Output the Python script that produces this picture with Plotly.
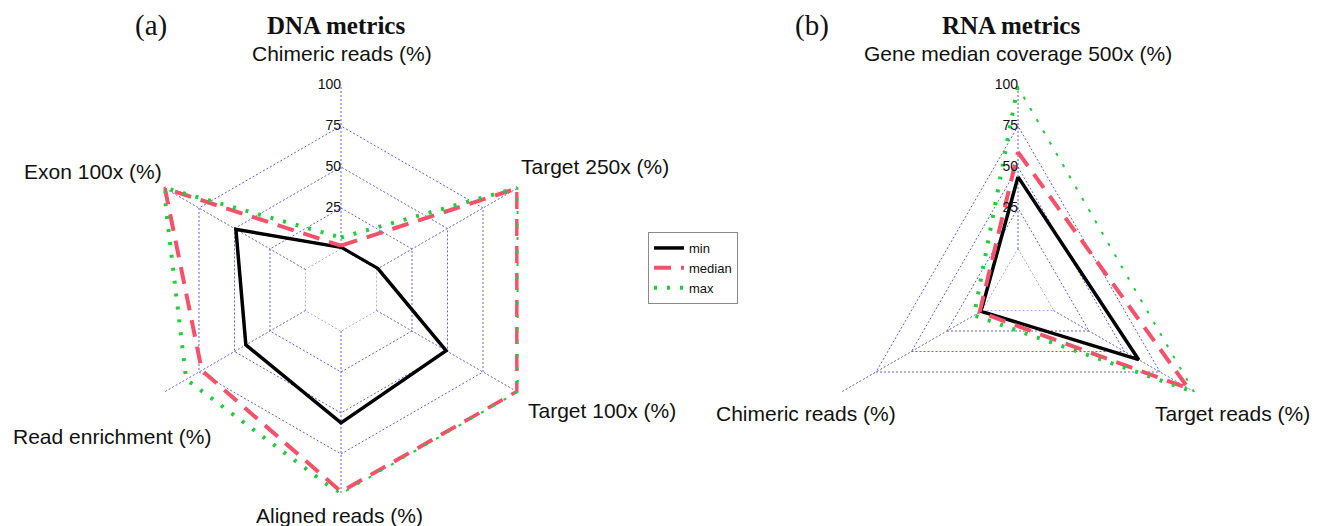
import plotly.graph_objects as go

# DNA panel: six sequencing-quality metrics, clockwise from the top
dna_axes = ["Chimeric reads (%)", "Target 250x (%)", "Target 100x (%)",
            "Aligned reads (%)", "Read enrichment (%)", "Exon 100x (%)"]
dna_min = [1, 1, 49, 56, 42, 49]
dna_median = [2, 99, 99, 98, 73, 99]
dna_max = [7, 100, 100, 100, 84, 100]

# RNA panel: three metrics, clockwise from the top
rna_axes = ["Gene median coverage 500x (%)", "Target reads (%)", "Chimeric reads (%)"]
rna_min = [44, 60, 1]
rna_median = [59, 95, 2]
rna_max = [100, 100, 6]

radial_ticks = [0, 25, 50, 75, 100]
tick_labels = ["0", "25", "50", "75", "100"]

W, H = 1324, 526
SANS = "Liberation Sans, Arial, sans-serif"
SERIF = "Liberation Serif, Times New Roman, serif"
GRID = "#6161D2"
GRID_DASH = "2px,2px"

series_style = [
    ("min", dict(color="#000000", width=3.5, dash="solid")),
    ("median", dict(color="#F5516B", width=4, dash="17px,10px")),
    ("max", dict(color="#22CC3A", width=4, dash="3px,10px")),
]


def closed(vals):
    return list(vals) + [vals[0]]


fig = go.Figure()

panels = [
    ("polar", dna_axes, [dna_min, dna_median, dna_max], True),
    ("polar2", rna_axes, [rna_min, rna_median, rna_max], False),
]

for subplot, axes, series, show in panels:
    # innermost ring (value 0) sits on the edge of the hole
    fig.add_trace(go.Scatterpolar(
        r=closed([radial_ticks[0]] * len(axes)), theta=closed(axes), mode="lines",
        line=dict(color=GRID, width=1, dash=GRID_DASH), subplot=subplot,
        showlegend=False, hoverinfo="skip",
    ))
    for (name, style), vals in zip(series_style, series):
        fig.add_trace(go.Scatterpolar(
            r=closed(vals), theta=closed(axes), mode="lines", name=name,
            line=style, subplot=subplot, showlegend=show, hoverinfo="skip",
        ))
    # radial scale labels along the first (top) axis
    fig.add_trace(go.Scatterpolar(
        r=radial_ticks, theta=[axes[0]] * len(radial_ticks), mode="text",
        text=tick_labels, textposition="middle left",
        textfont=dict(family=SANS, size=14, color="#111111"),
        subplot=subplot, showlegend=False, cliponaxis=False, hoverinfo="skip",
    ))


def polar_layout(x0, x1, y0, y1, axes):
    return dict(
        domain=dict(x=[x0 / W, x1 / W], y=[1 - y1 / H, 1 - y0 / H]),
        gridshape="linear",
        hole=0.2,
        bgcolor="rgba(0,0,0,0)",
        radialaxis=dict(range=[0, 100.01], tickvals=radial_ticks, showticklabels=False,
                        ticks="", showline=False, gridcolor=GRID, gridwidth=1,
                        griddash=GRID_DASH, angle=90),
        angularaxis=dict(categoryarray=axes, categoryorder="array", rotation=90,
                         direction="clockwise", showticklabels=False, ticks="",
                         showline=False, gridcolor=GRID, gridwidth=1, griddash=GRID_DASH),
    )


R = 205
cy = 290
fig.update_layout(
    width=W, height=H,
    margin=dict(l=0, r=0, t=0, b=0),
    paper_bgcolor="white", plot_bgcolor="white",
    polar=polar_layout(341 - R, 341 + R, cy - R, cy + R, dna_axes),
    polar2=polar_layout(1018 - R, 1018 + R, cy - R, cy + R, rna_axes),
    legend=dict(x=648 / W, y=1 - 232 / H, xanchor="left", yanchor="top",
                bordercolor="#8a8a8a", borderwidth=1, bgcolor="white",
                font=dict(family=SANS, size=13, color="#111111"),
                tracegroupgap=0, itemwidth=30),
    showlegend=True,
)

# axis names placed around each polygon
axis_label_pos = {
    "polar": [(341.7, 53), (595, 166.7), (601.5, 410.7), (339, 515), (111.7, 436.7), (93, 171.7)],
    "polar2": [(1018, 53), (1232, 413), (805.5, 413)],
}
annotations = []
for (subplot, axes, _, _) in panels:
    for label, (px, py) in zip(axes, axis_label_pos[subplot]):
        annotations.append(dict(text=label, x=px / W, y=1 - py / H, xref="paper", yref="paper",
                                xanchor="center", yanchor="middle", showarrow=False,
                                font=dict(family=SANS, size=21, color="#111111")))

# panel letters and titles
for text, px, bold, size in [("(a)", 151, False, 29), ("DNA metrics", 336, True, 25),
                             ("(b)", 812, False, 29), ("RNA metrics", 1011, True, 25)]:
    annotations.append(dict(text=f"<b>{text}</b>" if bold else text,
                            x=px / W, y=1 - 25 / H, xref="paper", yref="paper",
                            xanchor="center", yanchor="middle", showarrow=False,
                            font=dict(family=SERIF, size=size, color="#111111")))

fig.update_layout(annotations=annotations)

fig.write_html("out.html")
